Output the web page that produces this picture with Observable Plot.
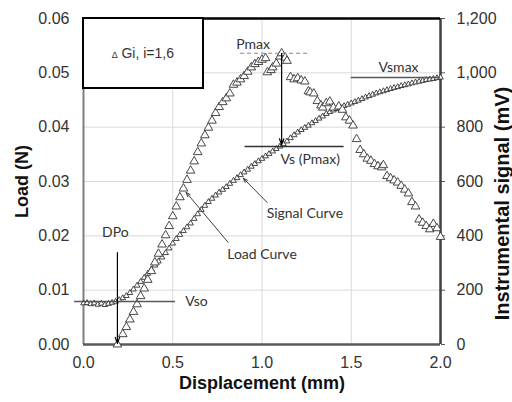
<!DOCTYPE html>
<html><head><meta charset="utf-8">
<script src="https://cdn.jsdelivr.net/npm/d3@7"></script>
<script src="https://cdn.jsdelivr.net/npm/@observablehq/plot@0.6"></script>
<style>
body{margin:0;background:#fff;}
#wrap{position:relative;width:512px;height:402px;}
#legend{position:absolute;z-index:2;left:82px;top:17px;width:122px;height:72px;box-sizing:border-box;border:2.5px solid #000;background:#fff;display:flex;align-items:center;justify-content:center;font:14px "Liberation Sans",Arial,sans-serif;color:#333;}
</style></head><body><div id="wrap"></div>
<script>
// Load curve (Gi triangles): displacement (mm) and load (N)
const loadX = [0.19,0.22,0.24,0.26,0.28,0.30,0.32,0.34,0.36,0.38,0.40,0.42,0.44,0.46,0.48,0.50,0.52,0.54,0.56,0.58,0.60,0.62,0.64,0.66,0.68,0.70,0.72,0.74,0.76,0.78,0.80,0.82,0.84,0.86,0.88,0.90,0.92,0.94,0.96,0.98,1.00,1.02,1.03,1.05,1.06,1.08,1.10,1.11,1.13,1.14,1.16,1.18,1.20,1.22,1.24,1.26,1.27,1.29,1.31,1.33,1.34,1.36,1.38,1.40,1.43,1.45,1.47,1.49,1.51,1.53,1.55,1.57,1.59,1.61,1.63,1.65,1.67,1.68,1.70,1.72,1.74,1.76,1.78,1.80,1.82,1.84,1.86,1.88,1.90,1.92,1.94,1.96,1.98,2.00];
const loadN = [0.0000,0.0019,0.0032,0.0046,0.0060,0.0074,0.0089,0.0103,0.0119,0.0135,0.0151,0.0167,0.0184,0.0201,0.0218,0.0236,0.0254,0.0271,0.0287,0.0303,0.0320,0.0337,0.0354,0.0370,0.0385,0.0399,0.0412,0.0426,0.0437,0.0446,0.0453,0.0462,0.0478,0.0482,0.0488,0.0494,0.0502,0.0510,0.0516,0.0520,0.0524,0.0527,0.0501,0.0505,0.0510,0.0517,0.0530,0.0536,0.0528,0.0522,0.0492,0.0488,0.0490,0.0486,0.0484,0.0466,0.0464,0.0462,0.0448,0.0440,0.0436,0.0444,0.0447,0.0436,0.0438,0.0432,0.0418,0.0412,0.0403,0.0378,0.0358,0.0350,0.0342,0.0338,0.0332,0.0328,0.0326,0.0330,0.0310,0.0306,0.0302,0.0298,0.0292,0.0285,0.0278,0.0262,0.0254,0.0230,0.0224,0.0218,0.0212,0.0222,0.0214,0.0198];
// Signal curve: displacement (mm) and instrumental signal (mV)
const sigX = [0.00,0.02,0.04,0.06,0.08,0.10,0.12,0.14,0.16,0.18,0.20,0.22,0.24,0.26,0.28,0.30,0.32,0.34,0.36,0.38,0.40,0.42,0.44,0.46,0.48,0.50,0.52,0.54,0.56,0.58,0.60,0.62,0.64,0.66,0.68,0.70,0.72,0.74,0.76,0.78,0.80,0.82,0.84,0.86,0.88,0.90,0.92,0.94,0.96,0.98,1.00,1.02,1.04,1.06,1.08,1.10,1.12,1.14,1.16,1.18,1.20,1.22,1.24,1.26,1.28,1.30,1.32,1.34,1.36,1.38,1.40,1.42,1.44,1.46,1.48,1.50,1.52,1.54,1.56,1.58,1.60,1.62,1.64,1.66,1.68,1.70,1.72,1.74,1.76,1.78,1.80,1.82,1.84,1.86,1.88,1.90,1.92,1.94,1.96,1.98,2.00];
const sigMv = [152,153,149,152,147,151,146,150,154,158,164,171,179,190,203,217,231,246,261,276,291,306,321,337,354,372,389,404,418,432,446,463,480,496,511,525,537,549,560,570,580,592,603,613,624,634,644,655,665,675,684,693,702,711,720,729,738,748,760,771,781,790,798,806,815,823,832,840,849,856,862,868,873,878,883,888,893,898,904,910,915,920,925,929,933,937,941,945,948,952,955,958,962,965,968,971,974,976,978,981,983];
// Axis ticks
const xTicks = [0, 0.5, 1.0, 1.5, 2.0];
const yTicks = [0, 0.01, 0.02, 0.03, 0.04, 0.05, 0.06];
const mvTicks = [0, 200, 400, 600, 800, 1000, 1200];

const K = 0.06 / 1200; // mV -> load-axis units
const load = loadX.map((x, i) => ({x, y: loadN[i]}));
const signal = sigX.map((x, i) => ({x, mv: sigMv[i]}));

const iMax = d3.maxIndex(loadN);
const pMaxX = loadX[iMax], pMax = loadN[iMax];
const dpo = loadX[0];
const vso = sigMv[9];
const vsP = sigMv[d3.minIndex(sigX, x => Math.abs(x - pMaxX))];
const vsMax = d3.max(sigMv);

const ann = {fontFamily: "Lato, 'Open Sans', sans-serif", fontSize: 14, fill: "#333"};
const gray = "#595959";

const plot = Plot.plot({
  width: 512, height: 402,
  marginLeft: 83, marginRight: 72, marginTop: 18, marginBottom: 58,
  style: {fontFamily: "'Liberation Sans', Arial, sans-serif", fontSize: "16px", color: "#333", background: "#fff"},
  x: {domain: [0, 2]},
  y: {domain: [0, 0.06]},
  marks: [
    Plot.gridX([0.5, 1, 1.5], {stroke: "#d9d9d9", strokeOpacity: 1}),
    Plot.gridY([0.01, 0.02, 0.03, 0.04, 0.05], {stroke: "#d9d9d9", strokeOpacity: 1}),
    Plot.axisX({ticks: xTicks, tickFormat: d3.format(".1f"), tickSize: 0, tickPadding: 12, label: null}),
    Plot.axisY({ticks: yTicks, tickFormat: d3.format(".2f"), tickSize: 0, tickPadding: 14, label: null}),
    Plot.axisY({anchor: "right", ticks: mvTicks.map(v => v * K), tickFormat: d => d3.format(",")(Math.round(d / K)), tickSize: 4, tickPadding: 12, label: null, stroke: gray}),
    Plot.ruleX([0], {stroke: "#7f7f7f", strokeWidth: 2}),
    Plot.ruleY([0], {stroke: gray, strokeWidth: 2.5}),
    Plot.ruleX([2], {stroke: "#404040", strokeWidth: 2.5}),
    Plot.ruleY([0.06], {stroke: "#000", strokeWidth: 2.5}),
    // signal curve
    Plot.dot(signal, {x: "x", y: d => d.mv * K, symbol: "triangle", r: 2.1, stroke: "#333", strokeWidth: 0.9, fill: "#fff"}),
    // load curve
    Plot.dot(load, {x: "x", y: "y", symbol: "triangle", r: 3.2, stroke: "#333", strokeWidth: 0.9, fill: "#fff"}),
    // Vso
    Plot.ruleY([vso * K], {x1: -0.05, x2: 0.515, stroke: gray, strokeWidth: 1.5}),
    Plot.text(["Vso"], {x: 0.57, y: vso * K, textAnchor: "start", ...ann}),
    // DPo
    Plot.arrow([0], {x1: dpo, x2: dpo, y1: 0.0169, y2: 0.0002, stroke: "#000", strokeWidth: 1.2, headLength: 8, headAngle: 40}),
    Plot.text(["DPo"], {x: dpo, y: 0.0206, dx: -2, ...ann}),
    // Pmax
    Plot.ruleY([pMax], {x1: 0.88, x2: 1.27, stroke: "#888", strokeDasharray: "4,3", strokeWidth: 1.2}),
    Plot.text(["Pmax"], {x: 0.95, y: pMax, dy: -9, ...ann}),
    Plot.arrow([0], {x1: pMaxX, x2: pMaxX, y1: pMax, y2: vsP * K + 0.0003, stroke: "#000", strokeWidth: 1.2, headLength: 8, headAngle: 40}),
    // Vs(Pmax)
    Plot.ruleY([vsP * K], {x1: 0.905, x2: 1.46, stroke: "#333", strokeWidth: 1.5}),
    Plot.text(["Vs (Pmax)"], {x: 1.27, y: vsP * K, dy: 13, ...ann}),
    // Vsmax
    Plot.ruleY([vsMax * K], {x1: 1.5, x2: 2, stroke: gray, strokeWidth: 1.5}),
    Plot.text(["Vsmax"], {x: 1.765, y: vsMax * K, dy: -10, ...ann}),
    // curve labels
    Plot.arrow([0], {x1: 0.81, y1: 0.0188, x2: 0.575, y2: 0.0280, stroke: "#404040", strokeWidth: 1, headLength: 7, headAngle: 40}),
    Plot.text(["Load Curve"], {x: 1.0, y: 0.0166, ...ann}),
    Plot.arrow([0], {x1: 1.03, y1: 0.0261, x2: 0.895, y2: 0.0306, stroke: "#404040", strokeWidth: 1, headLength: 7, headAngle: 40}),
    Plot.text(["Signal Curve"], {x: 1.24, y: 0.0241, ...ann}),
    // axis titles
    Plot.text(["Load (N)"], {frameAnchor: "left", textAnchor: "middle", dx: -61, rotate: -90, fontWeight: "bold", fontSize: 18, fill: "#111"}),
    Plot.text(["Instrumental signal (mV)"], {frameAnchor: "right", textAnchor: "middle", dx: 62, dy: 22, rotate: -90, fontWeight: "bold", fontSize: 20, fill: "#111"}),
    Plot.text(["Displacement (mm)"], {frameAnchor: "bottom", dy: 44, fontWeight: "bold", fontSize: 18, fill: "#111"})
  ]
});
const wrap = document.getElementById("wrap");
wrap.appendChild(plot);
const leg = document.createElement("div");
leg.id = "legend";
leg.innerHTML = '<span><span style="font-size:9px">∆</span> Gi, i=1,6</span>';
wrap.appendChild(leg);
</script>
</body></html>
